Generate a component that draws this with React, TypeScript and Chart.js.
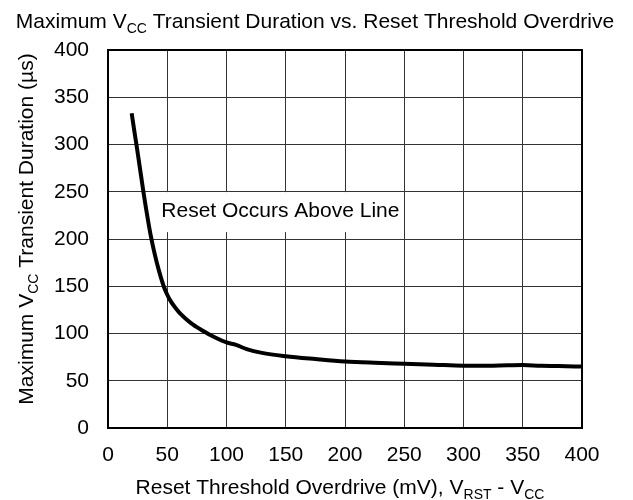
import React, { useEffect, useRef } from "react";
import { Chart, registerables } from "chart.js";

Chart.register(...registerables);

// ---- data ----
const overdriveMv = [20, 22, 24, 26, 28, 30, 32, 34, 36, 38, 41, 44, 47, 50, 53, 57, 61, 70, 80, 90, 100, 108, 117, 130, 150, 175, 200, 225, 250, 275, 300, 325, 350, 365, 380, 400];
const durationUs = [333, 316, 300, 283, 266, 249, 233, 218, 204, 192, 176, 162, 150, 141, 134, 127, 121, 111, 103, 96, 90.5, 88, 83.5, 79.5, 76, 73, 70.4, 69, 68, 67, 66, 66, 66.6, 65.8, 65.5, 65];
const xTicks = [0, 50, 100, 150, 200, 250, 300, 350, 400];
const yTicks = [0, 50, 100, 150, 200, 250, 300, 350, 400];

const titleParts = [
  { t: "Maximum V", sub: false },
  { t: "CC", sub: true },
  { t: " Transient Duration vs. Reset Threshold Overdrive", sub: false },
];
const xTitleParts = [
  { t: "Reset Threshold Overdrive (mV), V", sub: false },
  { t: "RST", sub: true },
  { t: " - V", sub: false },
  { t: "CC", sub: true },
];
const yTitleParts = [
  { t: "Maximum V", sub: false },
  { t: "CC", sub: true },
  { t: " Transient Duration (\u00b5s)", sub: false },
];
const annotationText = "Reset Occurs Above Line";
const annotationAt = { x: 45, y: 223.7 };

const FAMILY = '"Liberation Sans", Arial, sans-serif';
const MAIN_FONT = `21px ${FAMILY}`;
const SUB_FONT = `14px ${FAMILY}`;

function drawRich(ctx: CanvasRenderingContext2D, parts: { t: string; sub: boolean }[], x: number, y: number) {
  let total = 0;
  const widths = parts.map((p) => {
    ctx.font = p.sub ? SUB_FONT : MAIN_FONT;
    const w = ctx.measureText(p.t).width;
    total += w;
    return w;
  });
  let cx = x - total / 2;
  ctx.textAlign = "left";
  ctx.textBaseline = "alphabetic";
  ctx.fillStyle = "#000";
  parts.forEach((p, i) => {
    ctx.font = p.sub ? SUB_FONT : MAIN_FONT;
    ctx.fillText(p.t, cx, y + (p.sub ? 5 : 0));
    cx += widths[i];
  });
}

const textPlugin = {
  id: "customText",
  beforeDatasetsDraw(chart: any) {
    const ctx = chart.ctx as CanvasRenderingContext2D;
    const xs = chart.scales.x;
    const ys = chart.scales.y;
    const px = xs.getPixelForValue(annotationAt.x);
    const py = ys.getPixelForValue(annotationAt.y);
    ctx.save();
    ctx.font = MAIN_FONT;
    const w = ctx.measureText(annotationText).width;
    ctx.fillStyle = "#fff";
    ctx.fillRect(px - 2, py - 24.5, w + 5, 40);
    ctx.fillStyle = "#000";
    ctx.textAlign = "left";
    ctx.textBaseline = "alphabetic";
    ctx.fillText(annotationText, px, py);
    ctx.restore();
  },
  afterDraw(chart: any) {
    const ctx = chart.ctx as CanvasRenderingContext2D;
    const a = chart.chartArea;
    ctx.save();
    ctx.strokeStyle = "#000";
    ctx.lineWidth = 2;
    ctx.strokeRect(a.left, a.top, a.right - a.left, a.bottom - a.top);
    drawRich(ctx, titleParts, 315, 28);
    drawRich(ctx, xTitleParts, 340, 494);
    ctx.translate(33, 229);
    ctx.rotate(-Math.PI / 2);
    drawRich(ctx, yTitleParts, 0, 0);
    ctx.restore();
  },
};

export default function App() {
  const ref = useRef<HTMLCanvasElement | null>(null);
  useEffect(() => {
    if (!ref.current) return;
    const chart = new Chart(ref.current, {
      type: "line",
      data: {
        datasets: [
          {
            data: overdriveMv.map((x, i) => ({ x, y: durationUs[i] })),
            borderColor: "#000",
            borderWidth: 4,
            pointRadius: 0,
            cubicInterpolationMode: "monotone",
            fill: false,
          },
        ],
      },
      options: {
        animation: false,
        responsive: false,
        devicePixelRatio: 1,
        layout: { padding: { top: 50, right: 51, left: 0, bottom: 0 } },
        plugins: { legend: { display: false }, tooltip: { enabled: false }, title: { display: false } },
        scales: {
          x: {
            type: "linear",
            min: 0,
            max: 400,
            afterBuildTicks: (s: any) => { s.ticks = xTicks.map((v) => ({ value: v })); },
            afterFit: (s: any) => { s.height = 72; },
            ticks: { color: "#000", font: { family: FAMILY, size: 21 }, padding: 15, maxRotation: 0, autoSkip: false },
            grid: { color: "#333", lineWidth: 1, drawTicks: false },
            border: { display: false },
          },
          y: {
            type: "linear",
            min: 0,
            max: 400,
            afterBuildTicks: (s: any) => { s.ticks = yTicks.map((v) => ({ value: v })); },
            afterFit: (s: any) => { s.width = 108; },
            ticks: { color: "#000", font: { family: FAMILY, size: 21 }, padding: 19, autoSkip: false },
            grid: { color: "#333", lineWidth: 1, drawTicks: false },
            border: { display: false },
          },
        },
      },
      plugins: [textPlugin],
    });
    return () => chart.destroy();
  }, []);
  return (
    <div style={{ position: "fixed", left: 0, top: 0, width: 633, height: 500, background: "#fff" }}>
      <canvas ref={ref} width={633} height={500} style={{ width: 633, height: 500 }} />
    </div>
  );
}
